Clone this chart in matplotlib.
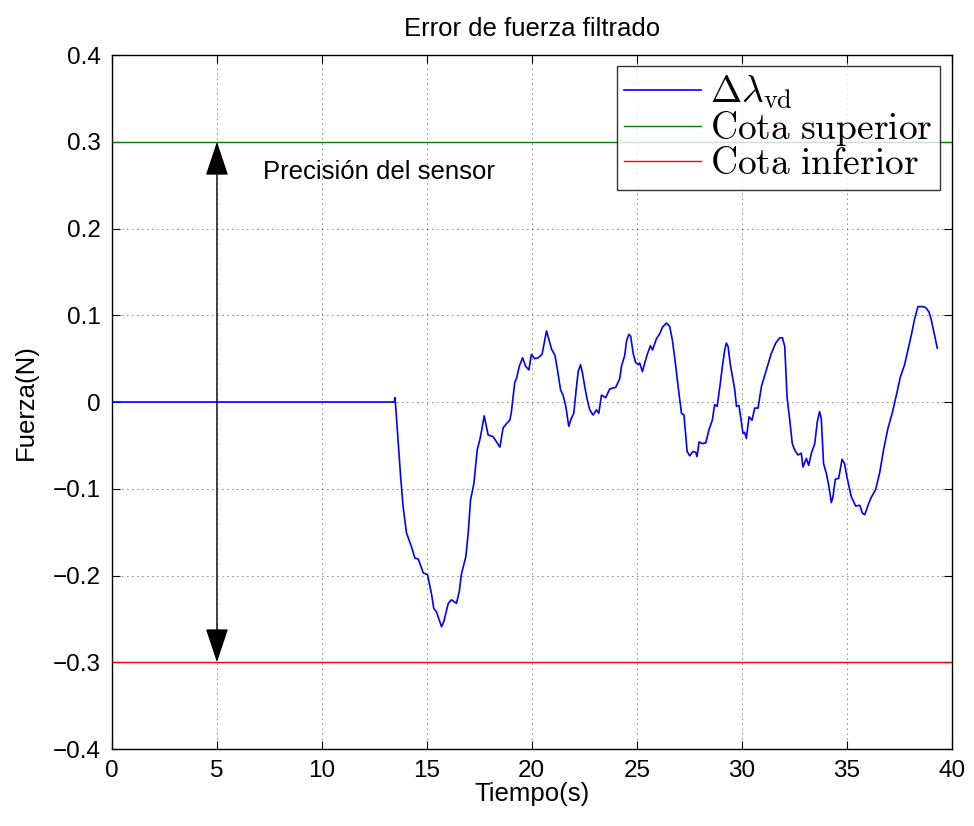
import numpy as np
import matplotlib.pyplot as plt

plt.rcParams.update({
    'font.family': 'Liberation Sans',
    'mathtext.fontset': 'cm',
    'font.size': 18,
})

# force error signal (time in s, force in N)
t = [0, 13.45, 13.48, 13.5, 13.63, 13.75, 13.87, 14.03, 14.27, 14.43, 14.59, 14.83, 15.03,
     15.22, 15.33, 15.46, 15.70, 15.81, 16.02, 16.17, 16.41, 16.54, 16.65, 16.86, 16.97,
     17.08, 17.24, 17.40, 17.52, 17.60, 17.73, 17.92, 18.16, 18.32, 18.48, 18.63, 18.79,
     18.95, 19.02, 19.19, 19.27, 19.40, 19.56, 19.71, 19.86, 19.98, 20.14, 20.30, 20.49,
     20.70, 20.78, 20.94, 21.10, 21.21, 21.37, 21.49, 21.62, 21.76, 21.88, 22.00, 22.13,
     22.21, 22.32, 22.41, 22.52, 22.63, 22.76, 22.92, 23.08, 23.19, 23.32, 23.52, 23.71,
     24.00, 24.19, 24.27, 24.43, 24.51, 24.62, 24.71, 24.83, 24.94, 25.06, 25.14, 25.27,
     25.38, 25.49, 25.65, 25.75, 25.94, 26.10, 26.22, 26.41, 26.57, 26.70, 26.86, 26.97,
     27.13, 27.25, 27.40, 27.52, 27.68, 27.81, 27.87, 27.97, 28.13, 28.29, 28.44, 28.60,
     28.71, 28.83, 28.95, 29.08, 29.19, 29.27, 29.35, 29.46, 29.59, 29.67, 29.75, 29.87,
     29.98, 30.06, 30.14, 30.22, 30.35, 30.49, 30.62, 30.78, 30.94, 31.10, 31.25, 31.41,
     31.62, 31.81, 31.94, 32.05, 32.16, 32.29, 32.41, 32.52, 32.68, 32.84, 32.92, 33.08,
     33.19, 33.32, 33.48, 33.60, 33.71, 33.79, 33.90, 34.03, 34.16, 34.27, 34.35, 34.46,
     34.62, 34.78, 34.90, 35.01, 35.22, 35.43, 35.62, 35.75, 35.86, 36.02, 36.17, 36.38,
     36.57, 36.76, 36.97, 37.17, 37.37, 37.56, 37.76, 37.92, 38.08, 38.24, 38.40, 38.62,
     38.76, 38.92, 39.03, 39.19, 39.32]
err = [0, 0, 0.005, 0.0, -0.044, -0.086, -0.121, -0.151, -0.167, -0.180, -0.181, -0.197, -0.199,
       -0.221, -0.238, -0.242, -0.259, -0.253, -0.232, -0.228, -0.232, -0.219, -0.198, -0.178, -0.151,
       -0.113, -0.094, -0.055, -0.044, -0.034, -0.016, -0.038, -0.040, -0.046, -0.052, -0.030, -0.025,
       -0.021, -0.013, 0.023, 0.027, 0.041, 0.051, 0.041, 0.037, 0.055, 0.050, 0.051, 0.055,
       0.082, 0.075, 0.061, 0.054, 0.039, 0.014, 0.008, -0.005, -0.028, -0.019, -0.013, 0.018,
       0.035, 0.043, 0.034, 0.018, 0.004, -0.009, -0.015, -0.009, -0.013, 0.008, 0.005, 0.015,
       0.017, 0.027, 0.041, 0.054, 0.070, 0.078, 0.076, 0.056, 0.046, 0.043, 0.045, 0.035,
       0.045, 0.054, 0.065, 0.060, 0.073, 0.079, 0.086, 0.091, 0.087, 0.071, 0.041, 0.018,
       -0.013, -0.015, -0.057, -0.062, -0.057, -0.058, -0.063, -0.046, -0.048, -0.047, -0.032, -0.021,
       -0.003, -0.005, 0.016, 0.041, 0.060, 0.068, 0.064, 0.043, 0.025, 0.014, -0.005, -0.004,
       -0.023, -0.036, -0.035, -0.042, -0.017, -0.021, -0.007, -0.007, 0.018, 0.031, 0.043, 0.056,
       0.068, 0.074, 0.074, 0.064, 0.006, -0.021, -0.048, -0.055, -0.061, -0.059, -0.075, -0.065,
       -0.073, -0.059, -0.048, -0.023, -0.011, -0.019, -0.071, -0.082, -0.098, -0.116, -0.109, -0.089,
       -0.088, -0.066, -0.071, -0.086, -0.109, -0.120, -0.119, -0.128, -0.130, -0.119, -0.110, -0.101,
       -0.082, -0.055, -0.030, -0.013, 0.008, 0.029, 0.043, 0.060, 0.077, 0.096, 0.110, 0.110,
       0.109, 0.104, 0.095, 0.077, 0.062]

upper = 0.3
lower = -0.3
xticks = [0, 5, 10, 15, 20, 25, 30, 35, 40]
yticks = [-0.4, -0.3, -0.2, -0.1, 0, 0.1, 0.2, 0.3, 0.4]
ytick_labels = ['\u22120.4', '\u22120.3', '\u22120.2', '\u22120.1', '0', '0.1', '0.2', '0.3', '0.4']

fig = plt.figure(figsize=(9.74, 8.26), dpi=100)
ax = fig.add_axes([0.115, 0.0932, 0.862, 0.8402])

ax.plot(t, err, color='#0000ff', lw=1.2, label=r'$\Delta\lambda_{\rm vd}$')
ax.axhline(upper, color='#008000', lw=1.0, label=r'$\rm Cota\ superior$')
ax.axhline(lower, color='#ff0000', lw=1.0, label=r'$\rm Cota\ inferior$')

ax.annotate('', xy=(5, upper), xytext=(5, lower),
            arrowprops=dict(arrowstyle='<|-|>,head_length=0.72,head_width=0.24',
                            color='k', lw=1.0, mutation_scale=30, shrinkA=0, shrinkB=0))
ax.text(7.2, 0.265, 'Precisión del sensor', fontsize=18.5, ha='left', va='center')

ax.set_xlim(0, 40)
ax.set_ylim(-0.4, 0.4)
ax.set_xticks(xticks)
ax.set_yticks(yticks)
ax.set_yticklabels(ytick_labels)
ax.tick_params(direction='in', top=True, right=True, length=6, labelsize=17.5, width=0.8)
ax.tick_params(axis='y', pad=8)
ax.tick_params(axis='x', pad=8)
ax.grid(True, color='k', linestyle=(0, (1, 5)), lw=0.6)
for s in ax.spines.values():
    s.set_linewidth(1.0)

ax.set_xlabel('Tiempo(s)', fontsize=18.5, labelpad=0)
ax.set_ylabel('Fuerza(N)', fontsize=18.5, labelpad=11)
ax.set_title('Error de fuerza filtrado', fontsize=18.5, pad=14)

leg = ax.legend(loc='upper right', fontsize=27, frameon=True, fancybox=False,
                borderpad=0.2, labelspacing=-0.05, handlelength=2.05, handletextpad=0.25,
                borderaxespad=0.3)
leg.get_frame().set_edgecolor('k')
leg.get_frame().set_linewidth(1.0)

fig.savefig('out.png', dpi=100)
